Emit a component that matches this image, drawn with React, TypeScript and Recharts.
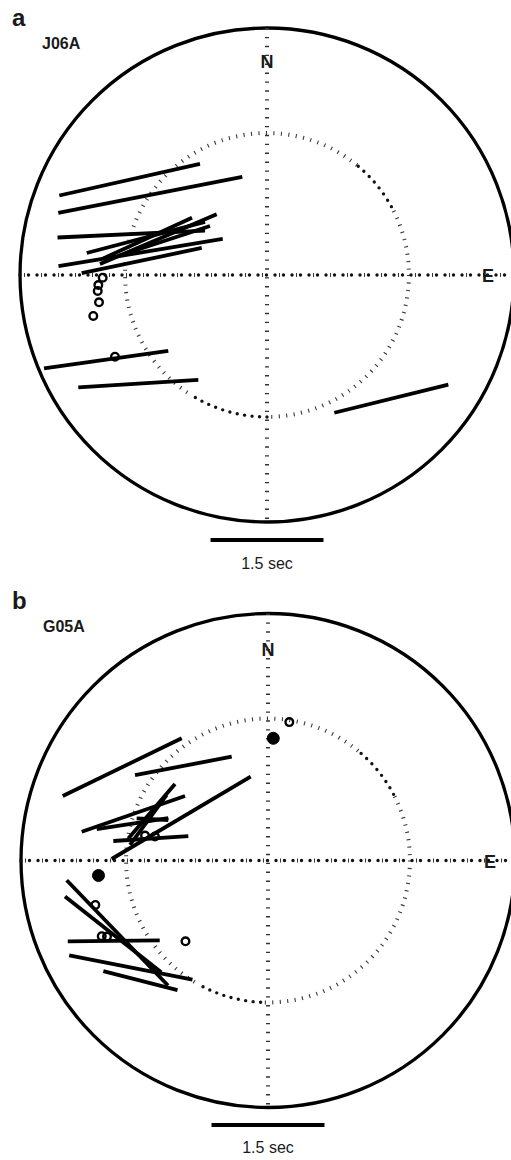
import React from "react";
import {
  ScatterChart,
  Scatter,
  XAxis,
  YAxis,
  ReferenceLine,
  ReferenceArea,
  ReferenceDot,
} from "recharts";

type Bar = [number, number, number, number];
type Pt = [number, number];

// ring radii and scale bar, in seconds of delay time
const OUTER_R = 3.28;
const INNER_R = 1.885;
const SCALE_SEC = 1.5;

// station J06A: splitting bars (x1, y1, x2, y2) and null measurements
const j06aBars: Bar[] = [
  [-2.758, 1.056, -0.89, 1.477],
  [-2.772, 0.826, -0.328, 1.304],
  [-2.782, 0.498, -0.823, 0.588],
  [-2.394, 0.292, -0.823, 0.706],
  [-2.769, 0.117, -0.588, 0.479],
  [-2.218, 0.146, -0.668, 0.807],
  [-2.461, 0.024, -0.867, 0.359],
  [-2.174, 0.22, -0.996, 0.76],
  [-1.979, 0.252, -0.757, 0.651],
  [-2.961, -1.239, -1.311, -1.009],
  [-2.506, -1.491, -0.912, -1.394],
  [0.894, -1.829, 2.408, -1.455],
];
const j06aNulls: Pt[] = [
  [-2.182, -0.036],
  [-2.24, -0.133],
  [-2.248, -0.212],
  [-2.231, -0.363],
  [-2.307, -0.544],
  [-2.019, -1.085],
];
const j06aFilled: Pt[] = [];

// station G05A
const g05aBars: Bar[] = [
  [-2.726, 0.857, -1.146, 1.623],
  [-1.766, 1.135, -0.482, 1.378],
  [-2.076, 0.02, -0.23, 1.113],
  [-2.474, 0.382, -1.102, 0.857],
  [-2.275, 0.418, -1.324, 0.564],
  [-2.054, 0.259, -1.058, 0.325],
  [-1.235, 1.016, -1.855, 0.293],
  [-1.345, 0.87, -1.833, 0.206],
  [-1.744, 0.56, -1.324, 0.538],
  [-2.673, -0.262, -1.328, -1.66],
  [-2.696, -0.478, -1.418, -1.485],
  [-2.659, -1.073, -1.438, -1.062],
  [-2.64, -1.259, -1.003, -1.583],
  [-2.187, -1.47, -1.202, -1.722],
];
const g05aNulls: Pt[] = [
  [0.283, 1.838],
  [-2.293, -0.59],
  [-2.208, -1.005],
  [-2.138, -1.009],
  [-1.096, -1.073],
  [-1.633, 0.332],
  [-1.501, 0.319],
];
const g05aFilled: Pt[] = [
  [0.07, 1.623],
  [-2.251, -0.199],
];

const W = 511;
const H = 580;
const PX_PER_SEC = 75.3;
const FONT = '"Liberation Sans", Arial, sans-serif';

const outerRing = (p: any) => (
  <ellipse
    cx={p.x + p.width / 2}
    cy={p.y + p.height / 2}
    rx={p.width / 2}
    ry={p.height / 2}
    fill="none"
    stroke="#000"
    strokeWidth={3.3}
  />
);

// dotted reference ring; some arcs are drawn with round dots
const innerRing = (dotArcs: Pt[]) => (p: any) => {
  const cx = p.x + p.width / 2;
  const cy = p.y + p.height / 2;
  const r = p.width / 2;
  const at = (deg: number) => {
    const a = (deg * Math.PI) / 180;
    return [cx + r * Math.sin(a), cy - r * Math.cos(a)];
  };
  return (
    <g>
      <ellipse
        cx={cx}
        cy={cy}
        rx={r}
        ry={p.height / 2}
        fill="none"
        stroke="#3a3a3a"
        strokeWidth={4}
        strokeDasharray="1.1 6.4"
      />
      {dotArcs.map(([a0, a1], i) => {
        const [x0, y0] = at(a0);
        const [x1, y1] = at(a1);
        return (
          <path
            key={i}
            d={`M${x0},${y0} A${r},${r} 0 0 1 ${x1},${y1}`}
            fill="none"
            stroke="#fff"
            strokeWidth={5}
          />
        );
      })}
      {dotArcs.map(([a0, a1], i) => {
        const [x0, y0] = at(a0);
        const [x1, y1] = at(a1);
        return (
          <path
            key={"d" + i}
            d={`M${x0},${y0} A${r},${r} 0 0 1 ${x1},${y1}`}
            fill="none"
            stroke="#111"
            strokeWidth={3.4}
            strokeLinecap="round"
            strokeDasharray="0 7.5"
          />
        );
      })}
    </g>
  );
};

const label =
  (s: string, size: number, weight: number, anchor: string) => (p: any) =>
    (
      <text
        x={p.cx}
        y={p.cy}
        textAnchor={anchor}
        dominantBaseline="central"
        fontFamily={FONT}
        fontSize={size}
        fontWeight={weight}
        fill="#1a1a1a"
      >
        {s}
      </text>
    );

const openDot = (p: any) => (
  <circle cx={p.cx} cy={p.cy} r={3.8} fill="none" stroke="#000" strokeWidth={2.4} />
);
const filledDot = (p: any) => (
  <circle cx={p.cx} cy={p.cy} r={6} fill="#000" stroke="#000" strokeWidth={1} />
);

type PanelProps = {
  top: number;
  cx: number;
  cy: number;
  letter: string;
  station: string;
  letterPos: Pt;
  stationPos: Pt;
  nY: number;
  ePos: Pt;
  barY: number;
  barTextY: number;
  bars: Bar[];
  nulls: Pt[];
  filled: Pt[];
  dotArcs: Pt[];
};

function Panel(props: PanelProps) {
  const { cx, cy } = props;
  const xDomain = [-cx / PX_PER_SEC, (W - cx) / PX_PER_SEC];
  const yDomain = [-(H - cy) / PX_PER_SEC, cy / PX_PER_SEC];
  const nullData = props.nulls.map(([x, y]) => ({ x, y }));
  const filledData = props.filled.map(([x, y]) => ({ x, y }));

  return (
    <div style={{ position: "absolute", left: 0, top: props.top, width: W, height: H }}>
      <ScatterChart width={W} height={H} margin={{ top: 0, right: 0, bottom: 0, left: 0 }}>
        <XAxis type="number" dataKey="x" domain={xDomain} allowDataOverflow hide />
        <YAxis type="number" dataKey="y" domain={yDomain} allowDataOverflow hide />

        <ReferenceArea
          x1={-INNER_R}
          x2={INNER_R}
          y1={-INNER_R}
          y2={INNER_R}
          ifOverflow="visible"
          shape={innerRing(props.dotArcs)}
        />
        <ReferenceLine
          segment={[{ x: 0, y: OUTER_R }, { x: 0, y: -OUTER_R }]}
          ifOverflow="visible"
          stroke="#333"
          strokeWidth={4}
          strokeDasharray="1.4 7.5"
        />
        <ReferenceLine
          segment={[{ x: -OUTER_R, y: 0 }, { x: OUTER_R, y: 0 }]}
          ifOverflow="visible"
          stroke="#333"
          strokeWidth={4}
          strokeDasharray="1 16"
          strokeDashoffset={-4}
        />
        <ReferenceLine
          segment={[{ x: -OUTER_R, y: 0 }, { x: OUTER_R, y: 0 }]}
          ifOverflow="visible"
          stroke="#111"
          strokeWidth={3.4}
          strokeLinecap="round"
          strokeDasharray="0 8.5"
        />
        <ReferenceArea
          x1={-OUTER_R}
          x2={OUTER_R}
          y1={-OUTER_R}
          y2={OUTER_R}
          ifOverflow="visible"
          shape={outerRing}
        />

        {props.bars.map(([x1, y1, x2, y2], i) => (
          <ReferenceLine
            key={i}
            segment={[{ x: x1, y: y1 }, { x: x2, y: y2 }]}
            ifOverflow="visible"
            stroke="#000"
            strokeWidth={3.8}
          />
        ))}

        <Scatter data={nullData} shape={openDot} isAnimationActive={false} />
        <Scatter data={filledData} shape={filledDot} isAnimationActive={false} />

        <ReferenceLine
          segment={[
            { x: -SCALE_SEC / 2, y: props.barY },
            { x: SCALE_SEC / 2, y: props.barY },
          ]}
          ifOverflow="visible"
          stroke="#000"
          strokeWidth={4}
        />
        <ReferenceDot x={0} y={props.barTextY} ifOverflow="visible" shape={label("1.5 sec", 16, 400, "middle")} />
        <ReferenceDot x={0} y={props.nY} ifOverflow="visible" shape={label("N", 18, 700, "middle")} />
        <ReferenceDot x={props.ePos[0]} y={props.ePos[1]} ifOverflow="visible" shape={label("E", 18, 700, "middle")} />
        <ReferenceDot
          x={props.letterPos[0]}
          y={props.letterPos[1]}
          ifOverflow="visible"
          shape={label(props.letter, 24, 700, "start")}
        />
        <ReferenceDot
          x={props.stationPos[0]}
          y={props.stationPos[1]}
          ifOverflow="visible"
          shape={label(props.station, 16, 700, "start")}
        />
      </ScatterChart>
    </div>
  );
}

export default function App() {
  return (
    <div style={{ position: "absolute", left: 0, top: 0, width: W, height: 2 * H, background: "#fff" }}>
      <Panel
        top={0}
        cx={267}
        cy={275}
        letter="a"
        station="J06A"
        letterPos={[-3.386, 3.426]}
        stationPos={[-2.988, 3.081]}
        nY={2.829}
        ePos={[2.935, -0.013]}
        barY={-3.519}
        barTextY={-3.825}
        bars={j06aBars}
        nulls={j06aNulls}
        filled={j06aFilled}
        dotArcs={[
          [40, 62],
          [180, 213],
        ]}
      />
      <Panel
        top={580}
        cx={268}
        cy={280.5}
        letter="b"
        station="G05A"
        letterPos={[-3.4, 3.459]}
        stationPos={[-2.988, 3.114]}
        nY={2.795}
        ePos={[2.948, -0.02]}
        barY={-3.513}
        barTextY={-3.805}
        bars={g05aBars}
        nulls={g05aNulls}
        filled={g05aFilled}
        dotArcs={[
          [41, 63],
          [183, 209],
        ]}
      />
    </div>
  );
}
